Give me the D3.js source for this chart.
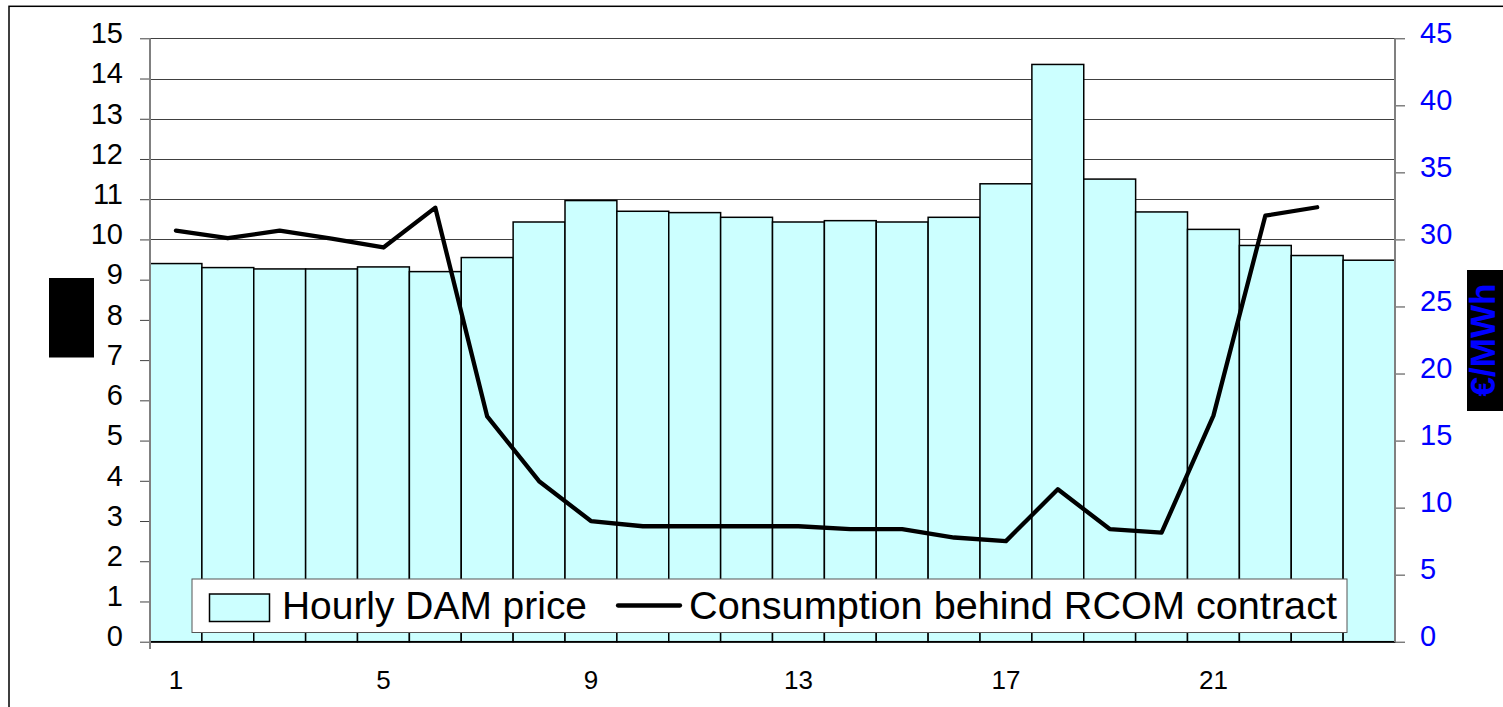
<!DOCTYPE html>
<html>
<head>
<meta charset="utf-8">
<script src="https://cdn.jsdelivr.net/npm/d3@7"></script>
<style>
  body { margin: 0; background: #fff; }
  svg { display: block; font-family: "Liberation Sans", Arial, sans-serif; }
</style>
</head>
<body>
<svg width="1503" height="707"></svg>
<script>
// hours on the category axis
var hours = d3.range(1, 25);
var hourTicks = [1, 5, 9, 13, 17, 21];

// Hourly DAM price, €/MWh (right axis)
var damPrice = [28.2, 27.9, 27.8, 27.8, 27.95, 27.6, 28.65, 31.3, 32.9, 32.1, 32.0, 31.65,
                31.3, 31.4, 31.3, 31.65, 34.15, 43.05, 34.5, 32.05, 30.75, 29.55, 28.8, 28.45];

// Consumption behind RCOM contract (left axis), hours 1..23
var consumption = [10.22, 10.03, 10.22, 10.02, 9.8, 10.79, 5.6, 3.99, 3.0, 2.87, 2.87, 2.87,
                   2.87, 2.8, 2.8, 2.59, 2.5, 3.79, 2.8, 2.71, 5.62, 10.59, 10.8];

var leftTicks = d3.range(0, 16);
var rightTicks = d3.range(0, 50, 5);

var svg = d3.select("svg");

var x = d3.scaleBand().domain(hours).range([150, 1395]).padding(0);
var yL = d3.scaleLinear().domain([0, 15]).range([641.7, 38.3]);
var yR = d3.scaleLinear().domain([0, 45]).range([641.7, 38.3]);

// outer frame
svg.append("rect")
    .attr("x", 9).attr("y", 6.3)
    .attr("width", 1510).attr("height", 720)
    .attr("fill", "none").attr("stroke", "#000").attr("stroke-width", 1.5);

// gridlines
svg.append("g").selectAll("line")
    .data(leftTicks)
    .enter()
    .append("line")
    .attr("x1", 150).attr("x2", 1395)
    .attr("y1", d => Math.round(yL(d)) + 0.5)
    .attr("y2", d => Math.round(yL(d)) + 0.5)
    .attr("stroke", "#404040").attr("stroke-width", 1);

// bars
svg.append("g").selectAll("rect")
    .data(hours)
    .enter()
    .append("rect")
    .attr("x", d => x(d))
    .attr("y", (d, i) => yR(damPrice[i]))
    .attr("width", x.bandwidth())
    .attr("height", (d, i) => yR(0) - yR(damPrice[i]))
    .attr("fill", "#ccffff")
    .attr("stroke", "#000")
    .attr("stroke-width", 1.5);

// consumption line
var line = d3.line()
    .x((d, i) => x(hours[i]) + x.bandwidth() / 2)
    .y(d => yL(d));

svg.append("path")
    .datum(consumption)
    .attr("d", line)
    .attr("fill", "none")
    .attr("stroke", "#000")
    .attr("stroke-width", 4.3)
    .attr("stroke-linejoin", "round")
    .attr("stroke-linecap", "round");

// legend
var lg = svg.append("g");
lg.append("rect")
    .attr("x", 192).attr("y", 579)
    .attr("width", 1155).attr("height", 53.5)
    .attr("fill", "#fff").attr("stroke", "#555").attr("stroke-width", 1);
lg.append("rect")
    .attr("x", 209.5).attr("y", 594)
    .attr("width", 60).attr("height", 27.5)
    .attr("fill", "#ccffff").attr("stroke", "#000").attr("stroke-width", 1.5);
lg.append("text")
    .attr("x", 282).attr("y", 619)
    .attr("font-size", 38.5)
    .attr("textLength", 305)
    .attr("lengthAdjust", "spacingAndGlyphs")
    .text("Hourly DAM price");
lg.append("line")
    .attr("x1", 618).attr("x2", 680)
    .attr("y1", 605.5).attr("y2", 605.5)
    .attr("stroke", "#000").attr("stroke-width", 4.3)
    .attr("stroke-linecap", "round");
lg.append("text")
    .attr("x", 689).attr("y", 619)
    .attr("font-size", 38.5)
    .attr("textLength", 648)
    .attr("lengthAdjust", "spacingAndGlyphs")
    .text("Consumption behind RCOM contract");

// left axis
var leftAxis = svg.append("g")
    .attr("transform", "translate(150,0)")
    .call(d3.axisLeft(yL).tickValues(leftTicks).tickSize(10).tickPadding(17).tickSizeOuter(0));
leftAxis.select(".domain").remove();
leftAxis.selectAll(".tick line").attr("stroke", "#404040");
leftAxis.selectAll(".tick text")
    .attr("font-size", 29).attr("font-family", "Liberation Sans, Arial, sans-serif")
    .attr("fill", "#000").attr("y", -5);
svg.append("line")
    .attr("x1", 150).attr("x2", 150).attr("y1", 38.3).attr("y2", 649)
    .attr("stroke", "#808080").attr("stroke-width", 2);

// right axis
var rightAxis = svg.append("g")
    .attr("transform", "translate(1395,0)")
    .call(d3.axisRight(yR).tickValues(rightTicks).tickSize(10).tickPadding(15).tickSizeOuter(0));
rightAxis.select(".domain").remove();
rightAxis.selectAll(".tick line").attr("stroke", "#404040");
rightAxis.selectAll(".tick text")
    .attr("font-size", 29).attr("font-family", "Liberation Sans, Arial, sans-serif")
    .attr("fill", "#0000ff").attr("y", -5);
svg.append("line")
    .attr("x1", 1395).attr("x2", 1395).attr("y1", 38.3).attr("y2", 642)
    .attr("stroke", "#808080").attr("stroke-width", 2);

// category axis labels
svg.append("g").selectAll("text")
    .data(hourTicks)
    .enter()
    .append("text")
    .attr("x", d => x(d) + x.bandwidth() / 2)
    .attr("y", 689)
    .attr("text-anchor", "middle")
    .attr("font-size", 26)
    .text(d => d);

// axis titles (left one is blacked out in the source)
svg.append("rect")
    .attr("x", 49).attr("y", 278)
    .attr("width", 45).attr("height", 79.5)
    .attr("fill", "#000");
svg.append("rect")
    .attr("x", 1467).attr("y", 270)
    .attr("width", 60).attr("height", 141)
    .attr("fill", "#000");
svg.append("text")
    .attr("transform", "translate(1495,340) rotate(-90)")
    .attr("text-anchor", "middle")
    .attr("font-size", 35)
    .attr("font-weight", "bold")
    .attr("fill", "#0000ff")
    .text("€/MWh");
</script>
</body>
</html>
